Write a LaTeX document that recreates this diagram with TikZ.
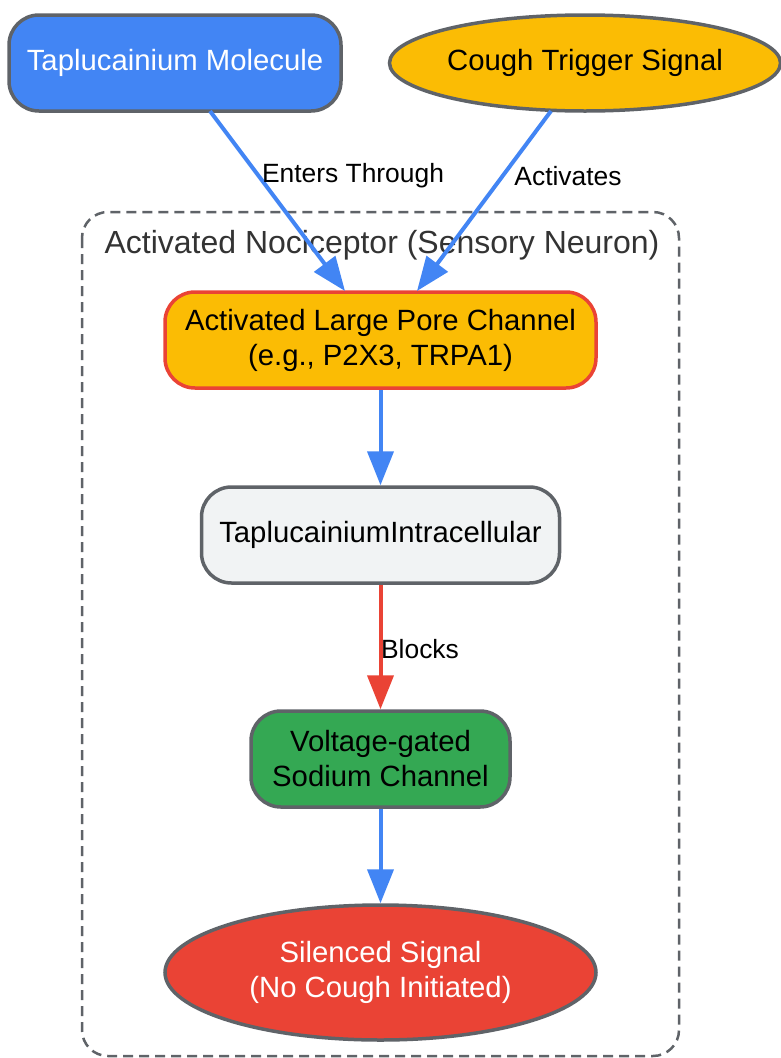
\documentclass[tikz,border=0pt]{standalone}
\usepackage{fontspec}
\setmainfont{Liberation Sans}
\usetikzlibrary{shapes.geometric,arrows.meta}
\definecolor{gblue}{HTML}{4285F4}
\definecolor{gyellow}{HTML}{FBBC04}
\definecolor{gred}{HTML}{EA4335}
\definecolor{ggreen}{HTML}{34A853}
\definecolor{glight}{HTML}{F1F3F4}
\definecolor{gborder}{HTML}{5F6368}
\definecolor{glabel}{HTML}{333333}
\tikzset{
  box/.style={draw=gborder, line width=3.5pt, rounded corners=30pt, align=center,
    font=\fontsize{29.3}{35}\selectfont, inner sep=0pt},
  oval/.style={draw=gborder, line width=3.5pt, ellipse, align=center,
    font=\fontsize{29.3}{35}\selectfont, inner sep=0pt},
  conn/.style={line width=4pt, -{Triangle[length=34pt,width=26pt]}},
  elabel/.style={font=\fontsize{26.4}{30}\selectfont, text=black, inner sep=0pt},
  cluster/.style={draw=gborder, line width=2.5pt, dash pattern=on 10pt off 6pt, rounded corners=26pt}
}
\begin{document}
\begin{tikzpicture}[x=1pt,y=-1pt]
\useasboundingbox (0,0) rectangle (781,1058);
% cluster
\draw[cluster] (82,212) rectangle (679,1056);
\node[font=\fontsize{32}{38}\selectfont, text=glabel, anchor=west] (cl) at (101,245) {Activated Nociceptor (Sensory Neuron)};
% nodes
\node[box, fill=gblue, text=white, minimum width=332pt, minimum height=96pt] (mol) at (175,63) {Taplucainium Molecule};
\node[oval, fill=gyellow, text=black, minimum width=391pt, minimum height=96pt] (cough) at (585,63) {Cough Trigger Signal};
\node[box, fill=gyellow, draw=gred, minimum width=431pt, minimum height=96pt] (pore) at (380.5,340) {Activated Large Pore Channel\\(e.g., P2X3, TRPA1)};
\node[box, fill=glight, minimum width=358pt, minimum height=96pt] (intra) at (380.5,535) {TaplucainiumIntracellular};
\node[box, fill=ggreen, minimum width=259pt, minimum height=96pt] (nav) at (380.5,759) {Voltage-gated\\Sodium Channel};
\node[oval, fill=gred, text=white, minimum width=431pt, minimum height=135pt] (sil) at (380.5,972.5) {Silenced Signal\\(No Cough Initiated)};
% anchors
\coordinate (m1) at (210,111);
\coordinate (p1) at (345,291);
\coordinate (c1) at (551,111);
\coordinate (p2) at (417,291);
% edges
\draw[conn, draw=gblue, fill=gblue] (m1) -- (p1);
\draw[conn, draw=gblue, fill=gblue] (c1) -- (p2);
\draw[conn, draw=gblue, fill=gblue] (pore.south) -- (intra.north);
\draw[conn, draw=gred, fill=gred] (intra.south) -- (nav.north);
\draw[conn, draw=gblue, fill=gblue] (nav.south) -- (sil.north);
% edge labels
\node[elabel] (l1) at (353,176) {Enters Through};
\node[elabel] (l2) at (568,176) {Activates};
\node[elabel] (l3) at (420,649) {Blocks};
\end{tikzpicture}
\end{document}
